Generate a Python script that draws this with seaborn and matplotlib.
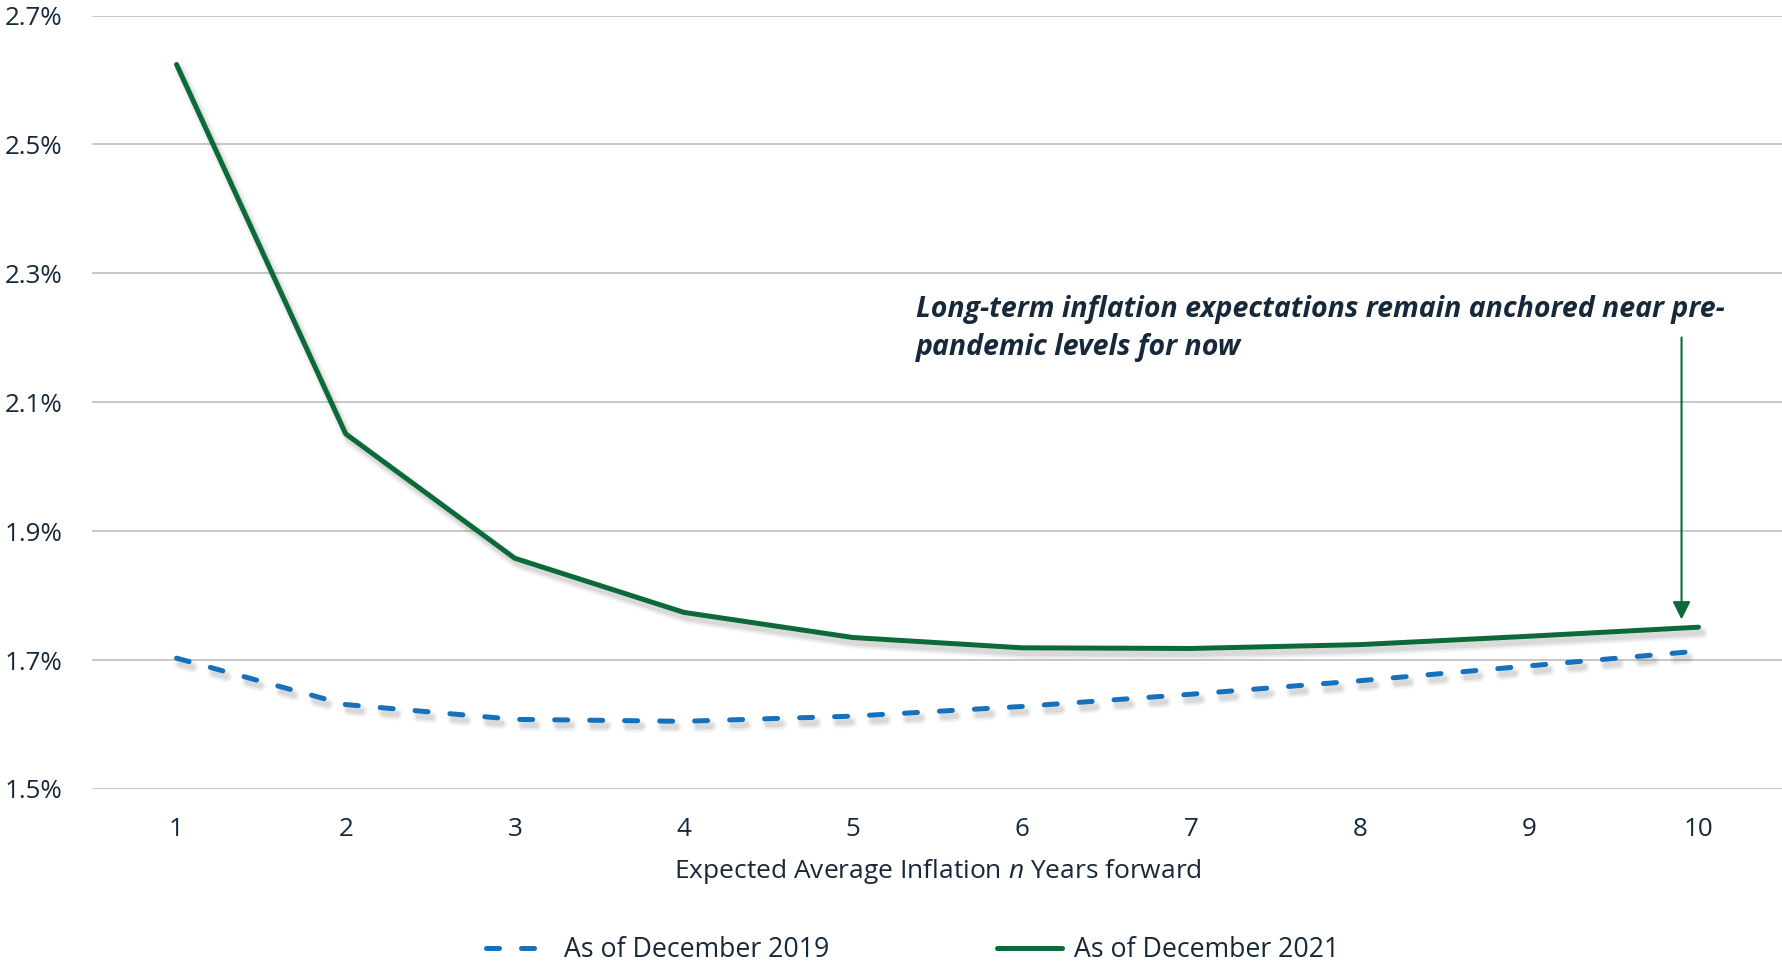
import matplotlib
matplotlib.use("Agg")
import matplotlib.pyplot as plt
import matplotlib.patheffects as pe
from matplotlib.lines import Line2D
import seaborn as sns
import pandas as pd

# Expected average inflation n years forward (%)
years = [1, 2, 3, 4, 5, 6, 7, 8, 9, 10]
dec_2019 = [1.703, 1.631, 1.608, 1.605, 1.613, 1.628, 1.647, 1.668, 1.691, 1.714]
dec_2021 = [2.624, 2.051, 1.858, 1.774, 1.735, 1.719, 1.718, 1.724, 1.737, 1.751]
series_names = ["As of December 2019", "As of December 2021"]
y_ticks = [1.5, 1.7, 1.9, 2.1, 2.3, 2.5, 2.7]
note = "Long-term inflation expectations remain anchored near pre-\npandemic levels for now"

BLUE = "#1570BD"
GREEN = "#0B6A37"
TEXT = "#16283A"
GRID = "#C4C4C4"

sns.set_theme(style="white")
plt.rcParams["font.family"] = ["Open Sans", "DejaVu Sans"]
plt.rcParams["mathtext.fontset"] = "custom"
plt.rcParams["mathtext.rm"] = "Open Sans"
plt.rcParams["mathtext.it"] = "Open Sans:italic"

df = pd.DataFrame({"year": years, "dec_2019": dec_2019, "dec_2021": dec_2021})

fig = plt.figure(figsize=(17.83, 9.63), dpi=100)
ax = fig.add_axes([0.0516, 0.1807, 0.9484, 0.8032])

# soft drop shadow built from a few stacked translucent strokes
shadow = [
    pe.SimpleLineShadow(offset=(2.5, -4), shadow_color="#606060", alpha=0.05, linewidth=9),
    pe.SimpleLineShadow(offset=(2.5, -4), shadow_color="#606060", alpha=0.08, linewidth=6.5),
    pe.SimpleLineShadow(offset=(2.5, -4), shadow_color="#606060", alpha=0.12, linewidth=4),
    pe.Normal(),
]

sns.lineplot(data=df, x="year", y="dec_2019", ax=ax, color=BLUE, lw=3.6,
             path_effects=shadow, zorder=3)
line_blue = ax.lines[-1]
line_blue.set_linestyle((0, (2.6, 4.4)))
line_blue.set_dash_capstyle("round")

sns.lineplot(data=df, x="year", y="dec_2021", ax=ax, color=GREEN, lw=3.6,
             path_effects=shadow, zorder=4)
ax.lines[-1].set_solid_capstyle("round")

ax.set_xlim(0.5, 10.5)
ax.set_ylim(1.5, 2.7)
ax.set_yticks(y_ticks)
ax.set_yticklabels([f"{v:.1f}%" for v in y_ticks])
ax.set_xticks(years)
ax.set_xticklabels([str(y) for y in years])
ax.tick_params(axis="y", length=0, pad=21, labelsize=18.7, labelcolor=TEXT)
ax.tick_params(axis="x", length=0, pad=20, labelsize=18.7, labelcolor=TEXT)
ax.grid(axis="y", color=GRID, lw=1.3, zorder=0)
ax.grid(axis="x", visible=False)
for s in ax.spines.values():
    s.set_visible(False)

ax.set_ylabel("")
ax.set_xlabel("Expected Average Inflation $\\it{n}$ Years forward",
              fontsize=19, color=TEXT, labelpad=11)

ax.text(5.375, 2.266, note, ha="left", va="top", fontsize=20.5,
        fontweight="bold", fontstyle="italic", color=TEXT, linespacing=1.4)
ax.annotate("", xy=(9.9, 1.763), xytext=(9.9, 2.2005),
            arrowprops=dict(arrowstyle="-|>,head_length=0.6,head_width=0.3",
                            color=GREEN, lw=1.5, mutation_scale=18,
                            shrinkA=0, shrinkB=0))

handles = [
    Line2D([], [], color=BLUE, lw=3.6, linestyle=(0, (2.6, 4.4)),
           dash_capstyle="round"),
    Line2D([], [], color=GREEN, lw=3.6, solid_capstyle="round"),
]
fig.legend(handles, series_names, loc="center", bbox_to_anchor=(0.512, 0.013),
           ncol=2, frameon=False, fontsize=19.2, labelcolor=TEXT,
           handlelength=2.45, handletextpad=0.45, columnspacing=6.3)

fig.savefig("out.png", dpi=100, facecolor="white")
